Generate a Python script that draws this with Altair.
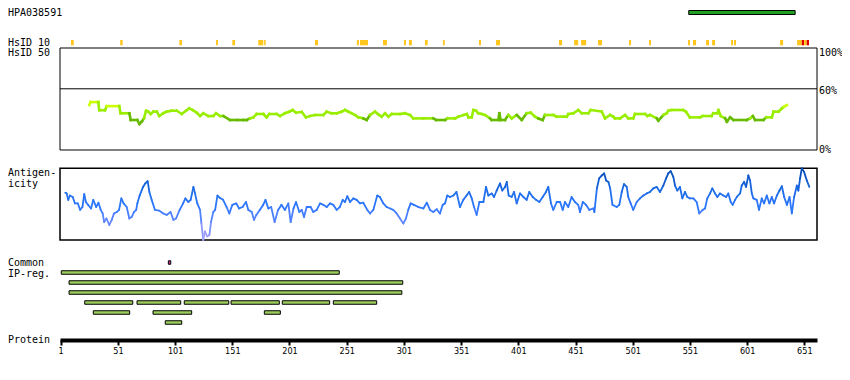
import altair as alt
import pandas as pd

# ---------------- data ----------------
protein_ticks = [1, 51, 101, 151, 201, 251, 301, 351, 401, 451, 501, 551, 601, 651]
x_domain = [0.39, 662.1]

hpa_name = "HPA038591"
hpa_start = [550]
hpa_end = [643]

hsid10_start = [10, 53, 104.7, 136.8, 151, 173.7, 178.8, 223.3, 259.9, 262.6,
                282.7, 301, 305.4, 319.4, 335.1, 366.6, 381.5, 436.6, 449.8, 455.9,
                470.7, 497.8, 515.3, 549.4, 553.7, 565.1, 570.4, 587, 589.6, 629.8,
                644.7, 648.8, 650.8, 653.1]
hsid10_end = [12.4, 55.2, 107, 138.5, 153.4, 178.1, 180.2, 225.9, 261.7, 269.6,
              286.2, 302.8, 308, 321.8, 336.7, 368.4, 385, 439.3, 453.3, 460.3,
              474.2, 499.6, 517, 551.1, 556.4, 567.7, 573, 588.7, 591.3, 632.5,
              648.8, 650.8, 653.1, 655.1]
hsid10_level = ["y"] * 31 + ["r", "y", "r"]

hs50_res = [26, 27.2, 33.9, 34.7, 39.7, 41.2, 52.2, 53.4, 61, 62.2,
            68, 69.8, 71.8, 73.8, 75.6, 77.6, 79.7, 82, 85, 87.2,
            90.7, 93.6, 98, 102.4, 106.8, 110.5, 113.4, 116.4, 119.9, 122.8,
            125.7, 130, 134.4, 136.8, 140.3, 143.2, 149, 155.4, 160.6, 163.6,
            166.5, 169.4, 172.3, 178.1, 181, 183.3, 189.8, 192.7, 197, 200.8,
            203.8, 206.7, 211.7, 215.4, 218.9, 223.3, 230.6, 233.5, 237.9, 242.3,
            246.6, 249.5, 252.4, 255.4, 258.3, 261.2, 265.5, 268.5, 271.4, 275.8,
            278.6, 281.6, 284.5, 287.4, 290.3, 297.6, 301.9, 306.3, 309.2, 318,
            326.7, 329.1, 337, 339, 345.7, 348.6, 353, 356, 357.4, 360.3,
            361.7, 364, 366, 369, 371.9, 376.3, 377.7, 383.5, 384.4, 385.6,
            389.4, 392.3, 395.2, 399.6, 404, 408.3, 411.8, 415.6, 418.5, 422.3,
            424.3, 431.6, 434.6, 440.4, 443.4, 444.7, 449.1, 453.4, 456.4, 462.2,
            464.3, 473.9, 476.8, 481.2, 484, 485.5, 489.9, 494.3, 497.2, 501.5,
            503, 511.8, 513.8, 516.1, 522, 523.4, 527.8, 530.7, 532.1, 535,
            545.2, 547.5, 551, 559.8, 562.2, 570, 571.4, 575, 575.9, 578,
            581.8, 583.3, 586.2, 589, 600.7, 603.6, 606, 608, 615.3, 617.7,
            622.6, 624.1, 628.4, 631.4, 633.4, 635.8]
hs50_val = [44, 47, 47, 39, 39, 43, 43, 36, 36, 29.4,
            29.4, 25.5, 27.8, 31, 38.5, 37.6, 35.3, 37.6, 37.6, 33.3,
            36, 37.6, 38.5, 38.5, 35.3, 38.5, 40.8, 39.2, 36.6, 33.3,
            36, 33.3, 33.3, 36, 33.3, 33.3, 29.4, 29.4, 29.4, 29.4,
            31, 32, 35.3, 35.3, 32, 35.3, 35.3, 33.3, 36, 37.6,
            39.2, 36.6, 37.3, 32, 33.3, 34.3, 34.3, 37.6, 36, 36,
            37.6, 39.2, 37.6, 36, 34.3, 32, 31, 29.4, 34.3, 37.6,
            35, 32.7, 36, 32.7, 35.3, 35.3, 36, 34.3, 31, 31,
            31, 29.4, 29.4, 31, 31, 32.7, 34.3, 35.3, 32, 32,
            39.2, 38.5, 36, 35.3, 34.3, 31, 29.4, 29.4, 36, 29.4,
            29.4, 34.3, 31, 34.3, 29.4, 36, 36.6, 32.7, 31, 29.4,
            34.3, 34.3, 32.7, 32.7, 32.7, 35.3, 36, 39.2, 36, 36,
            39.2, 37.6, 31, 34.3, 32.7, 31, 31, 34.3, 31, 31,
            35.3, 35.3, 33.3, 34.3, 31, 28.8, 34.3, 36, 38.5, 39.2,
            39.2, 37.6, 32, 32, 33.3, 33.3, 36, 36, 39.2, 33.3,
            31, 27.8, 32, 29.4, 29.4, 31, 33.3, 29.4, 29.4, 32,
            32, 37.6, 37.6, 40.8, 42.5, 44.1]

ant_res = [5, 6.2, 7.6, 9, 11.5, 13.5, 16, 18, 20, 21.6,
           23, 25, 27.5, 29.5, 32, 34, 36, 37.7, 39, 41,
           43.5, 45.6, 47.6, 50, 52, 54, 56, 58.7, 61, 63,
           65, 67, 68, 70, 73, 75, 77, 78.5, 80.5, 83.4,
           87, 90.7, 93.6, 97, 99.5, 101.8, 105, 108, 110, 112.5,
           114.6, 117, 118.4, 120.4, 122.8, 124, 125.6, 127, 129, 131,
           132.4, 134.4, 136, 138, 140, 143, 146, 148.4, 151, 154.5,
           157, 160, 163, 165, 168, 170, 172, 175, 178, 180,
           182.5, 185, 188, 191, 194, 197, 200, 202, 204.5, 206.7,
           209.6, 211.7, 213.7, 216, 219.5, 221.8, 224.8, 227.7, 230.6, 233.5,
           236.4, 239.3, 242.3, 245, 247.5, 249.5, 251.5, 254, 256.8, 259.7,
           262.6, 265.5, 269, 271.4, 274.3, 277.7, 280, 283, 286, 288.9,
           291.7, 294.7, 297.6, 300.5, 302.8, 304.8, 306.9, 309.8, 313.6, 318,
           321, 323.8, 326.7, 329.7, 332.5, 334.9, 336.9, 338.9, 341.3, 344.2,
           347, 350, 352.9, 355.8, 358, 360.3, 362.3, 364.6, 367, 370.5,
           372.8, 374.8, 377.8, 379.8, 382.1, 385, 387, 389.4, 390.9, 392.6,
           395.2, 397.3, 399.6, 402.5, 405.4, 408.3, 410.6, 413.6, 416.5, 419.4,
           422.3, 425.2, 427.2, 429.6, 431.6, 434.6, 437.5, 439.8, 441.8, 444.7,
           447.6, 450.5, 453.4, 454.9, 457.4, 460.2, 463.1, 466.6, 467.5, 469.7,
           471.7, 474, 476, 477.8, 479.8, 481.3, 483.3, 487, 489.3, 491.4,
           493.4, 495.8, 497.1, 499.2, 501.5, 504.5, 507.4, 510.3, 513.3, 516.1,
           519, 522, 524.9, 527.8, 530.2, 532.1, 534.2, 536.5, 538, 540,
           542.3, 544.4, 546.7, 548.7, 551.1, 554, 556.9, 559.2, 562.2, 564.2,
           566.2, 568.6, 570.6, 573, 575, 577.3, 580.2, 582.6, 584.6, 586.7,
           588.4, 590.5, 592, 594.9, 596.3, 598.4, 600.1, 602.1, 603.6, 605.1,
           606.5, 609.4, 611.4, 613.8, 615.8, 618.2, 620.5, 622.6, 624.6, 627,
           629.3, 631.4, 633.4, 635.8, 638.1, 640.1, 642.1, 644.5, 645.8, 647.3,
           648.8, 650.8, 653.2, 655.4]
ant_val = [66, 65, 56, 62, 60, 51, 51, 42, 46, 64,
           53, 49, 44, 56, 46, 52, 42, 37, 25, 30,
           21, 28, 37, 39, 42, 58, 51, 46, 30, 32,
           39, 42, 51, 62, 74, 79, 82, 67, 56, 42,
           41, 37, 35, 39, 28, 30, 42, 51, 58, 53,
           56, 74, 65, 51, 42, 23, 0, 12, 5, 7,
           25, 39, 42, 62, 59, 56, 46, 37, 49, 51,
           44, 46, 53, 42, 39, 28, 35, 42, 49, 56,
           44, 46, 25, 42, 49, 42, 51, 25, 44, 53,
           39, 42, 32, 46, 46, 39, 42, 51, 49, 46,
           51, 49, 42, 46, 56, 53, 61, 53, 58, 56,
           51, 52, 42, 37, 42, 62, 60, 51, 46, 44,
           42, 37, 30, 23, 30, 42, 51, 49, 46, 44,
           52, 42, 39, 43, 37, 49, 51, 62, 60, 62,
           67, 46, 56, 62, 67, 58, 46, 35, 53, 53,
           74, 62, 65, 60, 69, 79, 69, 74, 81, 62,
           60, 67, 51, 65, 60, 56, 67, 60, 56, 53,
           60, 67, 74, 51, 42, 53, 53, 42, 53, 46,
           60, 53, 49, 39, 53, 49, 42, 44, 39, 72,
           86, 90, 93, 83, 81, 72, 49, 46, 49, 67,
           78, 74, 60, 51, 42, 53, 58, 62, 65, 67,
           72, 74, 67, 76, 86, 93, 96, 88, 76, 69,
           74, 58, 67, 60, 58, 58, 53, 37, 42, 44,
           58, 65, 72, 65, 60, 65, 62, 60, 65, 53,
           49, 56, 60, 65, 76, 81, 74, 90, 83, 65,
           58, 56, 42, 58, 51, 62, 51, 60, 51, 62,
           69, 75, 60, 49, 60, 37, 60, 76, 69, 86,
           100, 95, 83, 74]

ip_row = [0, 1, 2, 3, 4, 4, 4, 4, 4, 4, 5, 5, 5, 6]
ip_start = [95.1, 1.5, 8.3, 8.3, 22, 67.7, 109, 149.9, 194.7, 239.3, 29.5, 81.7, 179, 92.4]
ip_end = [97.2, 244.5, 300, 299.2, 64, 105.9, 147.9, 192.1, 236.1, 277.2, 61.3, 115.5, 193, 106.8]
ip_kind = ["m"] + ["g"] * 13

assert len(hs50_res) == len(hs50_val)
assert len(ant_res) == len(ant_val)
assert len(hsid10_start) == len(hsid10_end) == len(hsid10_level)

# ---------------- tables ----------------
def segments(res, val, how):
    rows = []
    for i in range(len(res) - 1):
        a, b = val[i], val[i + 1]
        c = min(a, b) if how == "min" else (a + b) / 2
        rows.append({"x": res[i], "x2": res[i + 1], "y": a, "y2": b, "c": c})
    return pd.DataFrame(rows)

hs50_df = segments(hs50_res, hs50_val, "min")
ant_df = segments(ant_res, ant_val, "mean")
hsid10_df = pd.DataFrame({"x": hsid10_start, "x2": hsid10_end, "lvl": hsid10_level})
hpa_df = pd.DataFrame({"x": hpa_start, "x2": hpa_end})
ip_df = pd.DataFrame({"row": ip_row, "x": ip_start, "x2": ip_end, "kind": ip_kind})
one = pd.DataFrame({"k": [0]})

# ---------------- layout / styles ----------------
W, H = 757, 330
MONO = "DejaVu Sans Mono"
NARROW = "Liberation Sans Narrow, DejaVu Sans Condensed, sans-serif"

xscale = alt.Scale(domain=x_domain, nice=False, zero=False)
xaxis = alt.Axis(values=protein_ticks, title=None, grid=False, domainWidth=4,
                 domainColor="black", tickColor="black", tickWidth=2, tickSize=5,
                 labelFont=NARROW, labelFontSize=9, labelColor="black",
                 labelPadding=1, offset=2, labelFlush=False, labelOverlap=False)


def X(f):
    return alt.X(f, type="quantitative", scale=xscale, axis=xaxis)


hs50_scale = alt.Scale(domain=[0, 100], range=[142, 40], nice=False, zero=False)
ant_scale = alt.Scale(domain=[0, 100], range=[232, 160.3], nice=False, zero=False)

layers = []

# HsID 50 panel frame + 60% line
layers.append(alt.Chart(one).mark_rect(filled=False, color="black", strokeWidth=1).encode(
    x=alt.value(0), x2=alt.value(W),
    y=alt.Y(datum=0, scale=hs50_scale, axis=None), y2=alt.Y2(datum=100)))
layers.append(alt.Chart(one).mark_rule(color="black", strokeWidth=1).encode(
    x=alt.value(0), x2=alt.value(W), y=alt.Y(datum=60, scale=hs50_scale, axis=None)))

# HsID 50 line
layers.append(alt.Chart(hs50_df).mark_rule(strokeWidth=2.6, strokeCap="square").encode(
    x=X("x"), x2="x2",
    y=alt.Y("y:Q", scale=hs50_scale, axis=None), y2="y2",
    color=alt.Color("c:Q", scale=alt.Scale(type="threshold", domain=[30, 42],
                                           range=["#66bb00", "#99ee00", "#ccff00"]),
                    legend=None)))

# Antigenicity frame + line
layers.append(alt.Chart(one).mark_rect(filled=False, color="black", strokeWidth=1.5).encode(
    x=alt.value(0), x2=alt.value(W),
    y=alt.Y(datum=0, scale=ant_scale, axis=None), y2=alt.Y2(datum=100)))
layers.append(alt.Chart(ant_df).mark_rule(strokeWidth=1.8, strokeCap="round").encode(
    x=X("x"), x2="x2",
    y=alt.Y("y:Q", scale=ant_scale, axis=None), y2="y2",
    color=alt.Color("c:Q", scale=alt.Scale(domain=[0, 20, 45, 70, 100],
                                           range=["#b4a8ff", "#6b8cff", "#3079ff", "#1a6be6", "#0046b0"]),
                    legend=None)))

# HPA antigen bar
layers.append(alt.Chart(hpa_df).mark_rect(fill="#20a020", stroke="black", strokeWidth=1).encode(
    x=X("x"), x2="x2", y=alt.value(2.5), y2=alt.value(6.5)))

# HsID 10 ticks
layers.append(alt.Chart(hsid10_df).mark_rect().encode(
    x=X("x"), x2="x2", y=alt.value(32), y2=alt.value(37.3),
    color=alt.Color("lvl:N", scale=alt.Scale(domain=["y", "r"], range=["#ffc61e", "#e00000"]),
                    legend=None)))

# Common IP regions
layers.append(alt.Chart(ip_df).mark_bar(size=3.5, stroke="black", strokeWidth=1).encode(
    x=X("x"), x2="x2",
    y=alt.Y("row:O", scale=alt.Scale(type="band", domain=list(range(7)), range=[249.5, 319.5],
                                     paddingInner=0, paddingOuter=0), axis=None),
    color=alt.Color("kind:N", scale=alt.Scale(domain=["m", "g"], range=["#cc3399", "#9ccc5c"]),
                    legend=None)))


def label(text, x, y, font=MONO, size=10, align="left", baseline="middle", dy=0):
    return alt.Chart(one).mark_text(text=text, font=font, fontSize=size, align=align,
                                    baseline=baseline, dy=dy, color="black").encode(
        x=alt.value(x), y=alt.value(y))


LX = -52
layers += [
    label(hpa_name, LX, 5.3),
    label("HsID 10", LX, 34.7),
    label("HsID 50", LX, 44.7),
    label("Antigen-", LX, 164.5),
    label("icity", LX, 175.5),
    label("Common", LX, 254.5),
    label("IP-reg.", LX, 265.7),
    label("Protein", LX, 332),
]

for pct, dy in [(100, 4.5), (60, 2), (0, 0)]:
    layers.append(alt.Chart(one).mark_text(text=f"{pct}%", font=MONO, fontSize=10, align="left",
                                           baseline="middle", dy=dy, color="black").encode(
        x=alt.value(759), y=alt.Y(datum=pct, scale=hs50_scale, axis=None)))

chart = alt.layer(*layers).resolve_scale(y="independent", color="independent").properties(
    width=W, height=H,
    autosize=alt.AutoSizeParams(type="none"),
    padding={"left": 52, "top": 0, "right": 25, "bottom": 22},
).configure_view(strokeWidth=0)

chart.save("out.html", embed_options={"renderer": "svg", "actions": False})
